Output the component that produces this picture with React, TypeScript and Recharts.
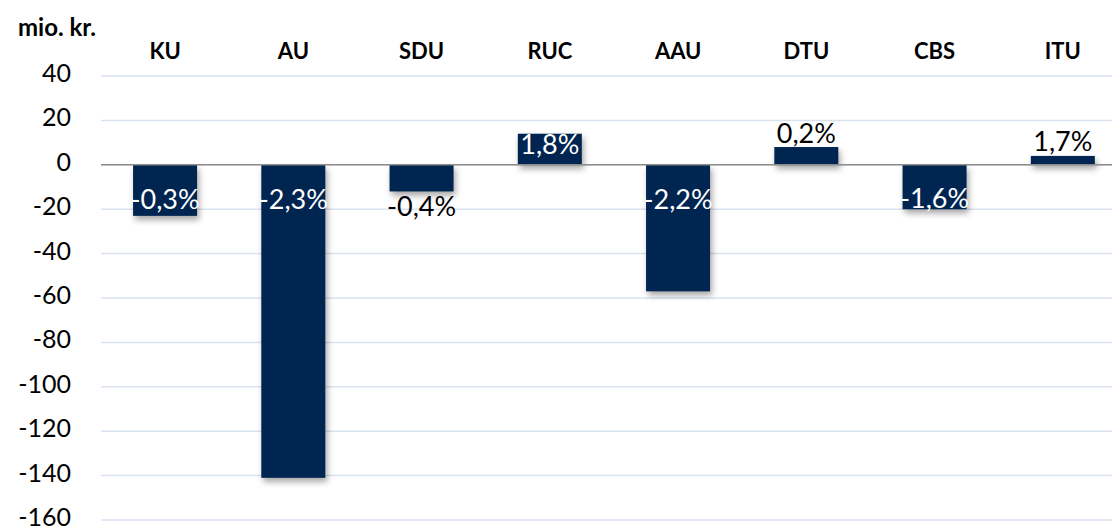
import React from "react";
import {
  BarChart,
  Bar,
  XAxis,
  YAxis,
  CartesianGrid,
  ReferenceLine,
  LabelList,
} from "recharts";

const universities = ["KU", "AU", "SDU", "RUC", "AAU", "DTU", "CBS", "ITU"];
const result = [-23, -141, -12, 14, -57, 8, -20, 4];
const shareLabels = ["-0,3%", "-2,3%", "-0,4%", "1,8%", "-2,2%", "0,2%", "-1,6%", "1,7%"];
const yTicks = [40, 20, 0, -20, -40, -60, -80, -100, -120, -140, -160];

const data = universities.map((name, i) => ({
  name,
  value: result[i],
  pct: shareLabels[i],
}));

const FONT = "Lato, 'Open Sans', sans-serif";
const NAVY = "#012551";

function CategoryTick(props: any) {
  const { x, y, payload } = props;
  return (
    <text
      x={x}
      y={y}
      textAnchor="middle"
      dominantBaseline="central"
      fontFamily={FONT}
      fontWeight={700}
      fontSize={22}
      fill="#000"
    >
      {payload.value}
    </text>
  );
}

function ValueTick(props: any) {
  const { x, y, payload } = props;
  return (
    <text
      x={x}
      y={y - 4}
      textAnchor="end"
      dominantBaseline="central"
      fontFamily={FONT}
      fontSize={25}
      fill="#000"
    >
      {payload.value}
    </text>
  );
}

function ShadowBar(props: any) {
  const { x, y, width, height } = props;
  const top = Math.min(y, y + height);
  const h = Math.abs(height);
  return (
    <rect
      x={x}
      y={top}
      width={width}
      height={h}
      fill={NAVY}
      style={{ filter: "drop-shadow(2px 4px 3px rgba(0,0,0,0.35))" }}
    />
  );
}

function PctLabel(props: any) {
  const { x, y, width, height, value, index } = props;
  const v = result[index];
  const top = Math.min(y, y + height);
  const bottom = Math.max(y, y + height);
  const cx = x + width / 2;
  let cy: number;
  let inside: boolean;
  if (v < 0) {
    const zero = top;
    inside = bottom - zero > 40;
    cy = inside ? Math.min(zero + 34, bottom - 12) : bottom + 14;
  } else {
    const zero = bottom;
    inside = zero - top > 25;
    cy = inside ? Math.max(zero - 22, top + 10) : top - 15;
  }
  return (
    <text
      x={cx}
      y={cy}
      textAnchor="middle"
      dominantBaseline="central"
      fontFamily={FONT}
      fontSize={27}
      fill={inside ? "#fff" : "#000"}
    >
      {value}
    </text>
  );
}

export default function App() {
  return (
    <div style={{ position: "relative", width: 1112, height: 530, overflow: "hidden", background: "#fff" }}>
      <style>{`body{margin:0}`}</style>
      <div
        style={{
          position: "absolute",
          left: 18,
          top: 12,
          fontFamily: FONT,
          fontWeight: 700,
          fontSize: 24,
          color: "#000",
        }}
      >
        mio. kr.
      </div>
      <BarChart
        width={1127}
        height={530}
        data={data}
        margin={{ top: 0, right: 0, bottom: 10, left: 0 }}
        barCategoryGap="25%"
      >
        <CartesianGrid horizontal vertical={false} stroke="#d9e2f0" strokeWidth={1.5} />
        <XAxis
          dataKey="name"
          orientation="top"
          height={76}
          axisLine={false}
          tickLine={false}
          tickSize={0}
          tickMargin={26}
          tick={<CategoryTick />}
          interval={0}
        />
        <YAxis
          type="number"
          domain={[-160, 40]}
          ticks={yTicks}
          width={101}
          axisLine={false}
          tickLine={false}
          tickMargin={24}
          tick={<ValueTick />}
          interval={0}
        />
        <ReferenceLine y={0} stroke="#8c8c8c" strokeWidth={1.5} />
        <Bar dataKey="value" shape={<ShadowBar />} isAnimationActive={false}>
          <LabelList dataKey="pct" content={<PctLabel />} />
        </Bar>
      </BarChart>
    </div>
  );
}
